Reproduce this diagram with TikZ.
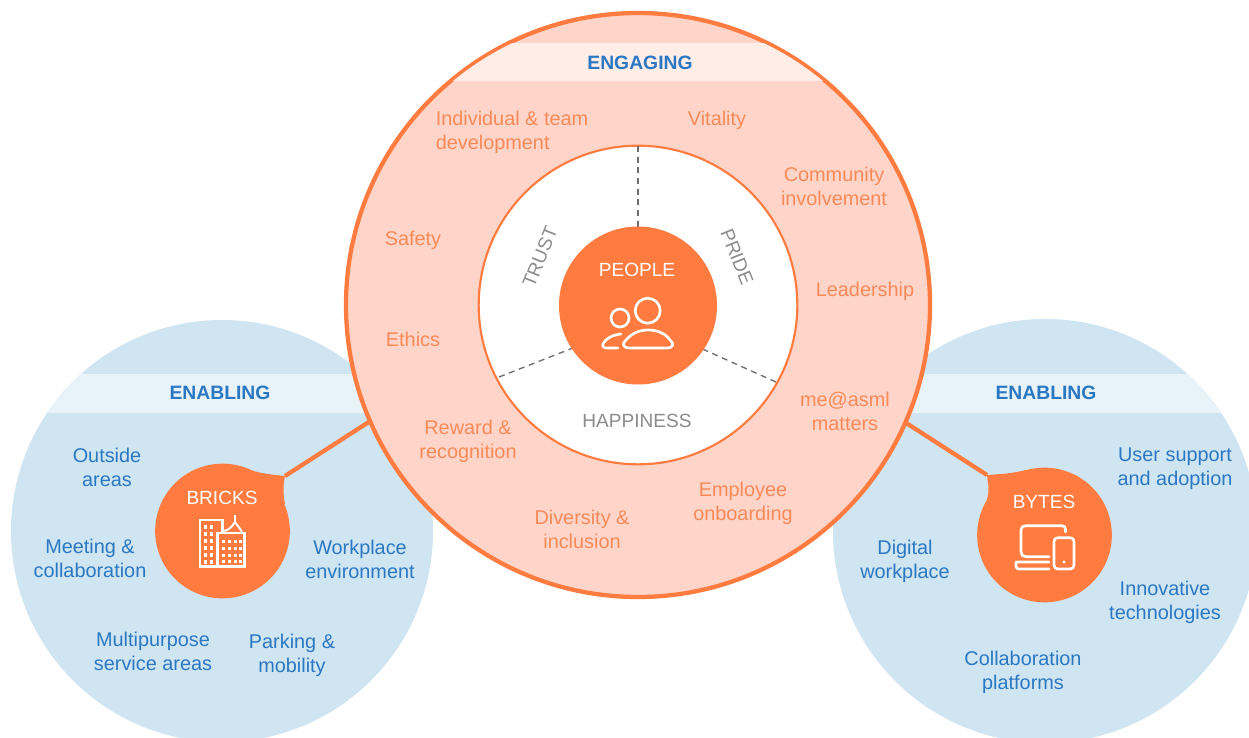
\documentclass[tikz,border=0pt]{standalone}
\usepackage{fontspec}
\setmainfont{Liberation Sans}
\definecolor{orangeC}{HTML}{FF7B3F}
\definecolor{peach}{HTML}{FFD5CA}
\definecolor{peachband}{HTML}{FFEDE8}
\definecolor{skyC}{HTML}{CFE5F2}
\definecolor{skyband}{HTML}{E7F2F9}
\definecolor{blueT}{HTML}{2B78C2}
\definecolor{orangeT}{HTML}{F98A58}
\definecolor{greyT}{HTML}{8C8C8C}
\definecolor{dashC}{HTML}{6E6E6E}
\tikzset{
  lab/.style={font=\fontsize{14.9}{18}\selectfont,align=center,inner sep=0pt},
  caps/.style={font=\fontsize{14.3}{18}\selectfont,align=center,inner sep=0pt},
  orangelab/.style={lab,text=orangeT},
  bluelab/.style={lab,text=blueT},
  greylab/.style={caps,text=greyT},
  whitelab/.style={caps,text=white},
  headlab/.style={font=\fontsize{14.5}{18}\bfseries\selectfont,text=blueT,inner sep=0pt},
  disc/.style={circle,inner sep=0pt,fill=orangeC,minimum size=101pt},
  spoke/.style={dash pattern=on 4.5pt off 3.5pt,line width=1pt,draw=dashC},
  link/.style={draw=orangeC,line width=3.2pt},
  icon/.style={draw=white,line width=2pt,line join=round,line cap=round},
  win/.style={fill=white},
}
\begin{document}
\begin{tikzpicture}[x=0.75pt,y=-0.75pt]
\useasboundingbox (0,0) rectangle (1249,738);
\clip (0,0) rectangle (1249,738);
\fill[white] (0,0) rectangle (1249,738);
% enabling circles
\node[circle,fill=skyC,inner sep=0pt,minimum size=316.5pt] (leftC) at (222,531) {};
\node[circle,fill=skyC,inner sep=0pt,minimum size=318pt] (rightC) at (1045,531) {};
\begin{scope}
\clip (222,531) circle[radius=211];
\fill[skyband] (0,374) rectangle (440,413);
\end{scope}
\begin{scope}
\clip (1045,531) circle[radius=212];
\fill[skyband] (830,374) rectangle (1249,413);
\end{scope}
% connectors
\coordinate (bricksTip) at (285,476);
\coordinate (bytesTip) at (987,475);
\coordinate (mainL) at (375,418);
\coordinate (mainR) at (900,419);
\draw[link] (bricksTip) -- (mainL);
\draw[link] (bytesTip) -- (mainR);
% main circle
\node[circle,draw=orangeC,line width=3.2pt,fill=peach,inner sep=0pt,minimum size=438pt] (main) at (638,305) {};
\begin{scope}
\clip (638,305) circle[radius=290.5];
\fill[peachband] (340,43) rectangle (940,81);
\end{scope}
\node[circle,draw=orangeC,line width=1.6pt,fill=white,inner sep=0pt,minimum size=239pt] (inner) at (638,305) {};
\coordinate (s1) at (638,146);
\coordinate (s2) at (499,377);
\coordinate (s3) at (776,382);
\coordinate (e2) at (578,346);
\coordinate (e3) at (698,347);
\draw[spoke] (s1) -- (638,230);
\draw[spoke] (s2) -- (e2);
\draw[spoke] (s3) -- (e3);
\node[disc,minimum size=118.5pt] (people) at (638,305.5) {};
% callout tails and discs
\fill[orangeC] (250,470) .. controls (263,474) and (275,475) .. (bricksTip) .. controls (283,485) and (283,495) .. (285,504) -- (222.5,531) -- cycle;
\fill[orangeC] (1026,470) .. controls (1010,474) and (1000,474) .. (bytesTip) .. controls (988,485) and (990,490) .. (987,499) -- (1044.5,535) -- cycle;
\node[disc] (bricks) at (222.5,531) {};
\node[disc] (bytes) at (1044.5,535) {};
% headings
\node[headlab] (hEng) at (640,63) {ENGAGING};
\node[headlab] (hEn1) at (220,393) {ENABLING};
\node[headlab] (hEn2) at (1046,393) {ENABLING};
% engaging labels
\node[orangelab,align=left] (t1) at (512,132) {Individual \& team\\development};
\node[orangelab] (t2) at (717,120) {Vitality};
\node[orangelab] (t3) at (834,186) {Community\\involvement};
\node[orangelab] (t4) at (865,291) {Leadership};
\node[orangelab] (t5) at (845,411) {me@asml\\matters};
\node[orangelab] (t6) at (743,503) {Employee\\onboarding};
\node[orangelab] (t7) at (582,529) {Diversity \&\\inclusion};
\node[orangelab] (t8) at (468,441) {Reward \&\\recognition};
\node[orangelab] (t9) at (413,339) {Ethics};
\node[orangelab] (t10) at (413,240) {Safety};
% ring labels
\node[greylab,rotate=68] (trust) at (540,257) {TRUST};
\node[greylab,rotate=-68] (pride) at (737,257) {PRIDE};
\node[greylab] (happy) at (637,421) {HAPPINESS};
\node[whitelab] (peopleT) at (637,270) {PEOPLE};
\node[whitelab] (bricksT) at (222,498) {BRICKS};
\node[whitelab] (bytesT) at (1044,502) {BYTES};
% bricks labels
\node[bluelab] (b1) at (107,467) {Outside\\areas};
\node[bluelab] (b2) at (90,558) {Meeting \&\\collaboration};
\node[bluelab] (b3) at (360,559) {Workplace\\environment};
\node[bluelab] (b4) at (153,651) {Multipurpose\\service areas};
\node[bluelab] (b5) at (292,655) {Parking \&\\mobility};
% bytes labels
\node[bluelab] (c1) at (1175,469) {User support\\and adoption};
\node[bluelab] (c2) at (905,561) {Digital\\workplace};
\node[bluelab] (c3) at (1165,602) {Innovative\\technologies};
\node[bluelab] (c4) at (1023,672) {Collaboration\\platforms};
% people icon
\draw[icon] (647.7,310.7) circle[radius=12.5];
\draw[icon] (620,318) circle[radius=9];
\draw[icon] (630,348) .. controls (622,348) and (622,343) .. (626,340) .. controls (632,333) and (640,330) .. (648,330) .. controls (657,330) and (665,333) .. (670,340) .. controls (674,343) and (674,348) .. (667,348) -- cycle;
\draw[icon] (621,334) .. controls (612,335) and (605,339) .. (603,344) .. controls (602,347) and (604,348) .. (607,348) -- (618,348);
% building icon
\draw[icon,line cap=butt,line join=miter] (217.7,566.7) -- (200,566.7) -- (200,520) -- (222.7,520) -- (222.7,532);
\draw[icon,line cap=butt,line join=miter] (217.7,533) rectangle (244.3,566.7);
\draw[icon,line cap=butt,line width=1.5pt] (223,531) .. controls (228,531) and (232,527) .. (235,522) .. controls (238,527) and (242,530) .. (242,533);
\draw[icon,line cap=butt,line width=1.5pt] (235,522) -- (235,515);
\foreach \wy in {525,532,539,546,553,560}{
  \fill[win] (204,\wy) rectangle +(3,3.5);
  \fill[win] (210,\wy) rectangle +(3,3.5);
}
\foreach \wy in {540,547,554,560}{
  \foreach \wx in {222,228,234,239}{
    \fill[win] (\wx,\wy) rectangle +(2.6,2.6);
  }
}
% devices icon
\draw[icon] (1065.5,532) -- (1065.5,529.5) .. controls (1065.5,527) and (1064,525.7) .. (1062,525.7) -- (1026,525.7) .. controls (1023,525.7) and (1021,527) .. (1021,530) -- (1021,552) .. controls (1021,555) and (1023,556.7) .. (1026,556.7) -- (1049,556.7);
\draw[icon] (1016,562) -- (1049,562) (1016,562) -- (1016,566) .. controls (1016,568) and (1017,569) .. (1019,569) -- (1049,569);
\draw[icon] (1058,537.7) -- (1070,537.7) .. controls (1072.5,537.7) and (1074,539) .. (1074,541.7) -- (1074,565) .. controls (1074,567.5) and (1072.5,569) .. (1070,569) -- (1058,569) .. controls (1055.5,569) and (1054,567.5) .. (1054,565) -- (1054,541.7) .. controls (1054,539) and (1055.5,537.7) .. (1058,537.7) -- cycle;
\fill[white] (1064,562) circle[radius=1.6];
\end{tikzpicture}
\end{document}
